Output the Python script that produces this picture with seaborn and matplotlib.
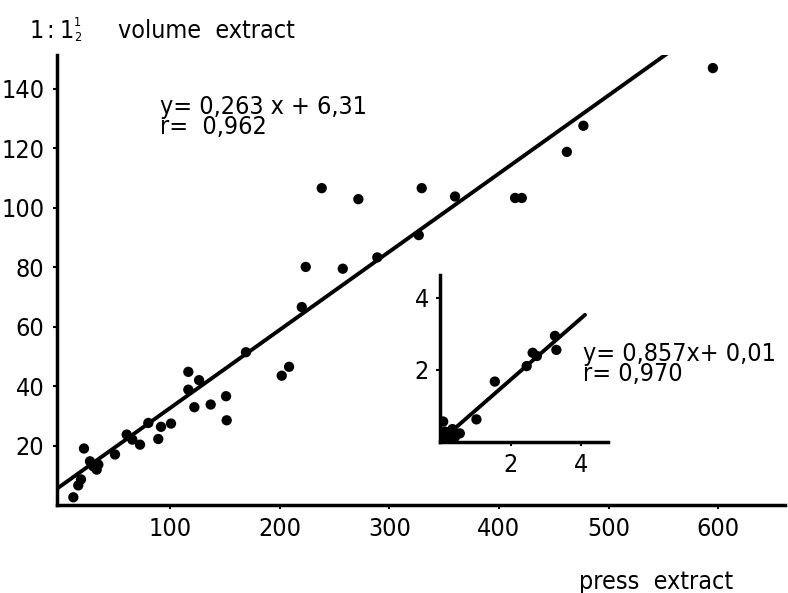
import numpy as np
import pandas as pd
import matplotlib
matplotlib.use('Agg')
import matplotlib.pyplot as plt
import seaborn as sns

# main plot: press extract vs 1:1.5 volume extract
press_x = [11.8, 21.5, 16.3, 18.8, 27, 30, 33.1, 34.6, 49.8, 60.5, 65.6, 72.6,
           80.2, 89.3, 91.8, 100.9, 116.7, 126.5, 116.7, 122.2, 137.1, 151.1,
           151.7, 169.3, 201.9, 208.6, 220.2, 223.8, 238.4, 257.6, 271.8, 289.1,
           326.9, 329.6, 360, 414.8, 420.9, 462, 477.1, 595.2]
volume_y = [2.6, 19.0, 6.6, 8.6, 14.7, 13, 11.9, 13.6, 17, 23.7, 22, 20.3,
            27.6, 22.2, 26.3, 27.4, 44.8, 42, 38.8, 32.9, 33.8, 36.6,
            28.5, 51.4, 43.5, 46.5, 66.6, 80.1, 106.6, 79.5, 102.9, 83.3,
            90.8, 106.6, 103.8, 103.3, 103.3, 118.8, 127.6, 147]
main_slope, main_icpt, main_r = 0.263, 6.31, 0.962
main_line_x = [-3, 565]

# inset: low range
inset_x = [1.55, 1.03, 2.45, 2.62, 2.74, 3.25, 3.29,
           0.09, 0.14, 0.28, 0.56, 0.06, 0.23, 0.42, 0.35]
inset_y = [1.67, 0.62, 2.10, 2.47, 2.38, 2.94, 2.55,
           0.56, 0.28, 0.23, 0.23, 0.10, 0.10, 0.13, 0.35]
inset_slope, inset_icpt, inset_r = 0.857, 0.01, 0.970
inset_line_x = [0.28, 4.1]

main_xticks = [100, 200, 300, 400, 500, 600]
main_yticks = [20, 40, 60, 80, 100, 120, 140]
inset_ticks = [2, 4]

sns.set_style('ticks')
plt.rcParams['font.family'] = ['DejaVu Sans']
plt.rcParams['font.stretch'] = 'condensed'
plt.rcParams['font.size'] = 18
plt.rcParams['text.color'] = 'black'

W, H = 788, 593
fig = plt.figure(figsize=(W / 100, H / 100), dpi=100)

def px_box(l, t, r, b):
    return [l / W, 1 - b / H, (r - l) / W, (b - t) / H]

def style_axes(a, pad):
    a.set_xlabel('')
    a.set_ylabel('')
    a.tick_params(length=3, width=1.5, pad=pad, labelsize=18,
                  colors='black')
    for s in ['left', 'bottom']:
        a.spines[s].set_linewidth(2.5)
        a.spines[s].set_color('black')
    sns.despine(ax=a)

ax = fig.add_axes(px_box(57, 55, 785, 505))
df = pd.DataFrame({'press': press_x, 'volume': volume_y})
sns.scatterplot(data=df, x='press', y='volume', ax=ax, color='black', s=55,
                edgecolor='none')
lx = np.array(main_line_x)
sns.lineplot(x=lx, y=main_slope * lx + main_icpt, ax=ax, color='black', lw=2.8)
ax.set_xlim(-3.1, 661)
ax.set_ylim(0, 151.4)
ax.set_xticks(main_xticks)
ax.set_yticks(main_yticks)
ax.set_xticklabels([str(t) for t in main_xticks])
ax.set_yticklabels([str(t) for t in main_yticks])
style_axes(ax, 6)
ax.text(91, 138, 'y= 0,263 x + 6,31\nr=  0,962', fontsize=18, va='top',
        ha='left', linespacing=0.8)
ax.text(476.5, 55, 'y= 0,857x+ 0,01\nr= 0,970', fontsize=18, va='top',
        ha='left', linespacing=0.8)

# inset
ins = fig.add_axes(px_box(440, 275, 608, 441.7))
di = pd.DataFrame({'press': inset_x, 'volume': inset_y})
sns.scatterplot(data=di, x='press', y='volume', ax=ins, color='black', s=55,
                edgecolor='none')
ix = np.array(inset_line_x)
sns.lineplot(x=ix, y=inset_slope * ix + inset_icpt, ax=ins, color='black', lw=2.8)
ins.set_xlim(0, 4.75)
ins.set_ylim(0, 4.63)
ins.set_xticks(inset_ticks)
ins.set_yticks(inset_ticks)
ins.set_xticklabels([str(t) for t in inset_ticks])
ins.set_yticklabels([str(t) for t in inset_ticks])
style_axes(ins, 5)
ins.patch.set_alpha(0)

# titles
fig.text(30 / W, 1 - 38 / H, '1', fontsize=18, va='baseline')
fig.text(46 / W, 1 - 38 / H, ':', fontsize=18, va='baseline')
fig.text(60 / W, 1 - 38 / H, '1', fontsize=18, va='baseline')
fig.text(74 / W, 1 - 16 / H, '1', fontsize=9, va='top')
fig.text(74 / W, 1 - 31 / H, '2', fontsize=9, va='top')
fig.text(118 / W, 1 - 38 / H, 'volume  extract', fontsize=18, va='baseline')
fig.text(656 / W, 1 - 589 / H, 'press  extract', fontsize=18, va='baseline',
         ha='center')

fig.savefig('out.png', dpi=100)
